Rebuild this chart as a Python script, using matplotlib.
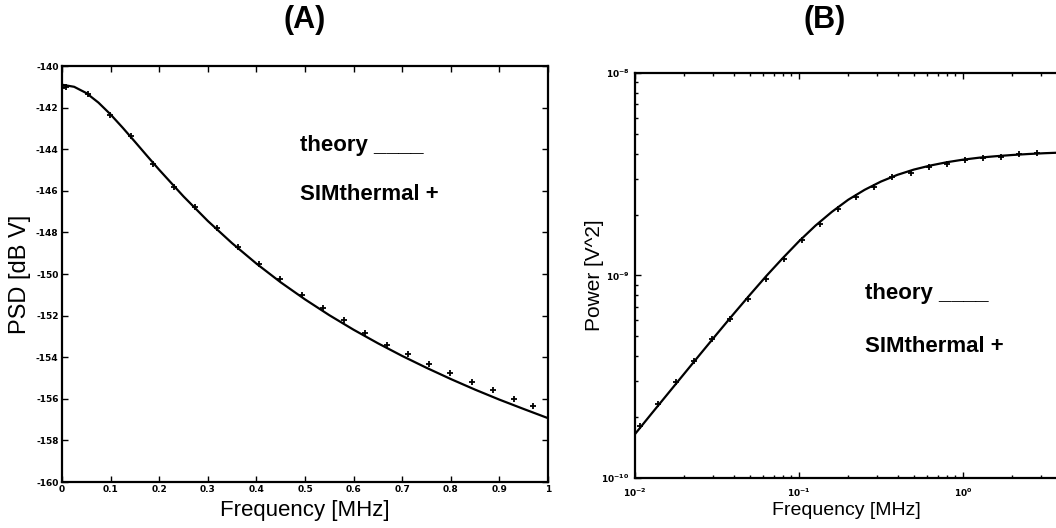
import numpy as np
import matplotlib
matplotlib.use("Agg")
import matplotlib.pyplot as plt

plt.rcParams["axes.unicode_minus"] = False

# ===== DONNEES (A) : PSD =====
freq_theory_a = [0.0, 0.025, 0.05, 0.075, 0.1, 0.125, 0.15, 0.175, 0.2, 0.25, 0.3,
                 0.35, 0.4, 0.45, 0.5, 0.55, 0.6, 0.65, 0.7, 0.75, 0.8, 0.85, 0.9,
                 0.95, 1.0]
psd_theory = [-140.90, -141.00, -141.30, -141.76, -142.33, -142.97, -143.64, -144.32,
              -144.99, -146.27, -147.45, -148.52, -149.50, -150.40, -151.22, -151.98,
              -152.68, -153.33, -153.94, -154.51, -155.05, -155.56, -156.04, -156.49,
              -156.93]

freq_sim_a = [0.0, 0.008, 0.054, 0.099, 0.143, 0.187, 0.230, 0.274, 0.318, 0.362,
              0.405, 0.449, 0.493, 0.537, 0.580, 0.624, 0.668, 0.711, 0.755, 0.799,
              0.843, 0.886, 0.930, 0.970]
psd_sim = [-141.05, -141.0, -141.35, -142.35, -143.35, -144.7, -145.8, -146.8, -147.8,
           -148.7, -149.5, -150.25, -151.0, -151.65, -152.2, -152.85, -153.4, -153.85,
           -154.35, -154.75, -155.2, -155.6, -156.0, -156.35]

x_ticks_a = [0, 0.1, 0.2, 0.3, 0.4, 0.5, 0.6, 0.7, 0.8, 0.9, 1.0]
x_tick_labels_a = ["0", "0.1", "0.2", "0.3", "0.4", "0.5", "0.6", "0.7", "0.8", "0.9", "1"]
y_ticks_a = [-160, -158, -156, -154, -152, -150, -148, -146, -144, -142, -140]

# ===== DONNEES (B) : puissance cumulee =====
freq_theory_b = [0.01, 0.01259, 0.01585, 0.01995, 0.02512, 0.03162, 0.03981, 0.05012,
                 0.06310, 0.07943, 0.1, 0.1259, 0.1585, 0.1995, 0.2512, 0.3162, 0.3981,
                 0.5012, 0.6310, 0.7943, 1.0, 1.259, 1.585, 1.995, 2.512, 3.162, 3.981]
power_theory = [1.648e-10, 2.075e-10, 2.606e-10, 3.273e-10, 4.111e-10, 5.152e-10,
                6.442e-10, 8.017e-10, 9.931e-10, 1.216e-9, 1.476e-9, 1.762e-9,
                2.061e-9, 2.366e-9, 2.649e-9, 2.911e-9, 3.141e-9, 3.334e-9,
                3.491e-9, 3.624e-9, 3.733e-9, 3.819e-9, 3.882e-9, 3.936e-9,
                3.981e-9, 4.018e-9, 4.046e-9]

freq_sim_b = [0.01072, 0.01380, 0.01778, 0.02291, 0.02951, 0.03802, 0.04898, 0.06310,
              0.08128, 0.1047, 0.1349, 0.1738, 0.2239, 0.2884, 0.3715, 0.4786, 0.6166,
              0.7943, 1.023, 1.318, 1.698, 2.188, 2.818]
power_sim = [1.80e-10, 2.32e-10, 2.97e-10, 3.77e-10, 4.84e-10, 6.07e-10, 7.62e-10,
             9.66e-10, 1.20e-9, 1.49e-9, 1.80e-9, 2.14e-9, 2.45e-9, 2.74e-9, 3.08e-9,
             3.21e-9, 3.44e-9, 3.56e-9, 3.72e-9, 3.81e-9, 3.85e-9, 3.99e-9, 4.04e-9]
x_ticks_b = [1e-2, 1e-1, 1e0]

FAM = ["Liberation Sans", "DejaVu Sans"]

fig = plt.figure(figsize=(10.56, 5.28), dpi=100)

# ===== Graphique A =====
ax1 = fig.add_axes([62 / 1056, 1 - 482 / 528, 486 / 1056, 416 / 528])
ax1.plot(freq_theory_a, psd_theory, color="black", lw=1.6)
ax1.plot(freq_sim_a, psd_sim, "+", color="black", ms=5, mew=1.3)
ax1.set_xlim(0, 1)
ax1.set_ylim(-160, -140)
ax1.set_xticks(x_ticks_a)
ax1.set_xticklabels(x_tick_labels_a)
ax1.set_yticks(y_ticks_a)
ax1.set_xlabel("Frequency [MHz]", fontsize=16, family=FAM)
ax1.set_ylabel("PSD [dB V]", fontsize=17, family=FAM)
ax1.xaxis.set_label_coords(0.5, -0.043)
ax1.yaxis.set_label_coords(-0.063, 0.5)
ax1.text(0.49, 0.81, "theory ____", transform=ax1.transAxes, fontsize=16,
         fontweight="bold", family=FAM, va="center")
ax1.text(0.49, 0.69, "SIMthermal +", transform=ax1.transAxes, fontsize=16,
         fontweight="bold", family=FAM, va="center")

# ===== Graphique B =====
ax2 = fig.add_axes([635 / 1056, 1 - 478 / 528, 492 / 1056, 405 / 528])
ax2.loglog(freq_theory_b, power_theory, color="black", lw=1.6)
ax2.loglog(freq_sim_b, power_sim, "+", color="black", ms=5, mew=1.3)
ax2.set_xlim(1e-2, 1e1)
ax2.set_ylim(1e-10, 1e-8)
ax2.set_xticks(x_ticks_b)
ax2.set_xlabel("Frequency [MHz]", fontsize=14, family=FAM)
ax2.set_ylabel("Power [V^2]", fontsize=15, family=FAM)
ax2.xaxis.set_label_coords((846 - 635) / 492, -0.06)
ax2.yaxis.set_label_coords(-0.063, 0.5)
ax2.text(865 / 1056, 1 - 294 / 528, "theory ____", transform=fig.transFigure,
         fontsize=16, fontweight="bold", family=FAM, va="center")
ax2.text(865 / 1056, 1 - 347 / 528, "SIMthermal +", transform=fig.transFigure,
         fontsize=16, fontweight="bold", family=FAM, va="center")

for ax in (ax1, ax2):
    for side in ax.spines.values():
        side.set_linewidth(1.6)
    ax.tick_params(which="both", direction="in", top=True, right=True,
                   labelsize=6.5, width=1.0, pad=2.5)
    ax.tick_params(which="major", length=4)
    ax.tick_params(which="minor", length=2.5)
    for lab in ax.get_xticklabels() + ax.get_yticklabels():
        lab.set_fontweight("bold")

ax2.tick_params(axis="x", which="both", pad=6)
ax2.tick_params(axis="y", which="both", pad=4)

fig.text(305 / 1056, 1 - 20 / 528, "(A)", fontsize=22, fontweight="bold",
         family=FAM, ha="center", va="center")
fig.text(825 / 1056, 1 - 20 / 528, "(B)", fontsize=22, fontweight="bold",
         family=FAM, ha="center", va="center")

plt.savefig("out.png", dpi=100)
